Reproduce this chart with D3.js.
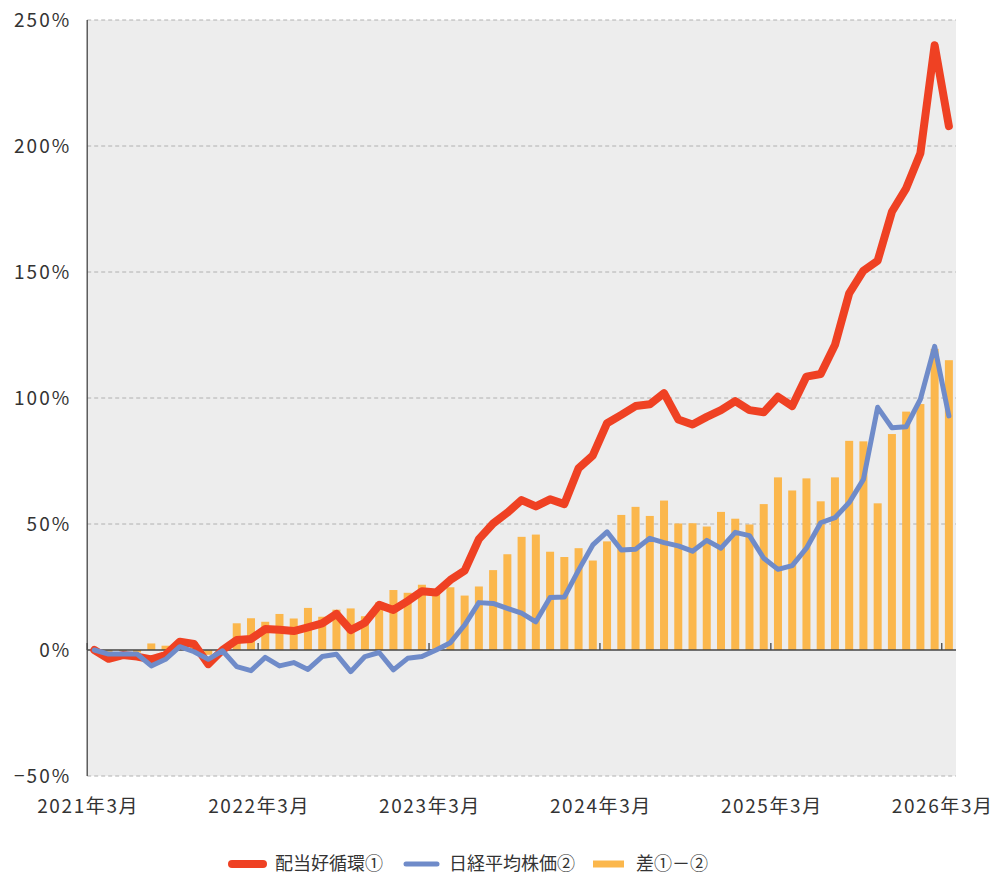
<!DOCTYPE html>
<html><head><meta charset="utf-8">
<script src="https://cdn.jsdelivr.net/npm/d3@7/dist/d3.min.js"></script>
<style>
body{margin:0;background:#fff;}
text{font-family:"Noto Sans CJK JP","Noto Sans",sans-serif;fill:#333;}
</style></head>
<body><svg id="c" width="993" height="875"></svg>
<script>
// categories: monthly 2021-03 .. 2026-03
const categories = [];
for (let y = 2021, m = 3; !(y === 2026 && m === 4); m++) {
  if (m > 12) { m = 1; y++; }
  if (y === 2026 && m === 4) break;
  categories.push(y + "-" + String(m).padStart(2, "0"));
}
const tickCategories = ["2021-03","2022-03","2023-03","2024-03","2025-03","2026-03"];
const tickLabels = ["2021年3月","2022年3月","2023年3月","2024年3月","2025年3月","2026年3月"];
const yTicks = [-50, 0, 50, 100, 150, 200, 250];
const seriesNames = ["配当好循環①", "日経平均株価②", "差①－②"];

const dividend = [0,-3.5,-2,-2.6,-3.7,-2,3.3,2.4,-5.6,0,4,4.4,8.3,8,7.5,9,10.6,14.3,7.9,10.8,
  17.9,15.9,19.4,23.3,22.8,27.8,31.5,44,50.2,54.5,59.5,57,59.8,57.9,72.1,77.2,90,93.3,96.8,97.5,
  101.9,91.5,89.5,92.5,95.2,98.8,95.2,94.3,100.5,96.8,108.5,109.5,121,141.5,150.5,154.5,173.9,183.2,197.1,240,207.9];
const nikkei = [0,-1.6,-1.6,-1.6,-6.3,-3.7,1.3,-0.7,-3.7,-0.3,-6.6,-8.2,-2.9,-6.3,-5,-7.7,-2.6,-1.7,-8.6,-2.6,
  -1,-7.9,-3.3,-2.6,0,2.9,9.9,18.8,18.5,16.5,14.6,11.2,20.8,21,31.7,41.7,46.9,39.7,40,44.3,
  42.6,41.3,39.2,43.5,40.4,46.7,45.4,36.4,32,33.5,40.4,50.5,52.5,58.5,67.7,96.3,88.2,88.6,99.5,120.5,92.9];
const diff = [0,-1.9,-0.4,-1,2.6,1.7,2,3.1,-1.9,0.3,10.6,12.6,11.2,14.3,12.5,16.7,13.2,16,16.5,13.4,
  18.9,23.8,22.7,25.9,22.8,24.9,21.6,25.2,31.7,38,44.9,45.8,39,36.9,40.4,35.5,43.1,53.6,56.8,53.2,
  59.3,50.2,50.3,49,54.8,52.1,49.8,57.9,68.5,63.3,68.1,59,68.5,83,82.8,58.2,85.7,94.6,97.6,119.5,115];

const colors = {red:"#ef4123", blue:"#6f8bc9", orange:"#fbb74c"};

const svg = d3.select("#c");
const L = 87.2, R = 956, T = 20, B = 776;

const x = d3.scaleBand().domain(categories).range([L, R]).paddingInner(0).paddingOuter(0);
const y = d3.scaleLinear().domain([-50, 250]).range([B, T]);
const cx = d => x(d) + x.bandwidth() / 2;

// background
svg.append("rect").attr("x", L).attr("y", T).attr("width", R - L).attr("height", B - T).attr("fill", "#ededed");

// gridlines
svg.append("g").selectAll("line").data(yTicks.filter(v => v !== 0)).join("line")
  .attr("x1", L).attr("x2", R).attr("y1", d => y(d)).attr("y2", d => y(d))
  .attr("stroke", "#b0b0b0").attr("stroke-width", 1).attr("stroke-dasharray", "4,3");

// y axis labels
const yAxis = d3.axisLeft(y).tickValues(yTicks).tickSize(0).tickPadding(16)
  .tickFormat(d => (d < 0 ? "−" + Math.abs(d) : d) + "%");
const ga = svg.append("g").attr("transform", `translate(${L},0)`).call(yAxis);
ga.select(".domain").remove();
ga.selectAll("text").style("font-size", "19px").style("letter-spacing", "2px").attr("fill", "#333");

// bars
const bw = 8;
svg.append("g").selectAll("rect").data(categories).join("rect")
  .attr("x", (d) => cx(d) - bw / 2)
  .attr("y", (d, i) => Math.min(y(diff[i]), y(0)))
  .attr("width", bw)
  .attr("height", (d, i) => Math.abs(y(diff[i]) - y(0)))
  .attr("fill", colors.orange);

// zero line and left axis
svg.append("line").attr("x1", L).attr("x2", R).attr("y1", y(0)).attr("y2", y(0)).attr("stroke", "#444").attr("stroke-width", 1.3);
svg.append("line").attr("x1", L).attr("x2", L).attr("y1", T).attr("y2", B).attr("stroke", "#444").attr("stroke-width", 1.3);

// x tick marks
svg.append("g").selectAll("line").data(tickCategories).join("line")
  .attr("x1", d => x(d)).attr("x2", d => x(d)).attr("y1", y(0)).attr("y2", y(0) - 7)
  .attr("stroke", "#444").attr("stroke-width", 1.3);

// x labels
svg.append("g").selectAll("text").data(tickCategories).join("text")
  .attr("x", d => x(d) + 1).attr("y", 813).attr("text-anchor", "middle")
  .style("font-size", "19px").style("letter-spacing", "1.6px")
  .text((d, i) => tickLabels[i]);

// lines
const line = vals => d3.line().x((d) => cx(d)).y((d, i) => y(vals[i]))(categories);
svg.append("path").attr("d", line(dividend)).attr("fill", "none").attr("stroke", colors.red)
  .attr("stroke-width", 8).attr("stroke-linejoin", "round").attr("stroke-linecap", "round");
svg.append("path").attr("d", line(nikkei)).attr("fill", "none").attr("stroke", colors.blue)
  .attr("stroke-width", 5).attr("stroke-linejoin", "round").attr("stroke-linecap", "round");

// legend
const legend = [
  {name: seriesNames[0], color: colors.red, w: 8, x: 232},
  {name: seriesNames[1], color: colors.blue, w: 5, x: 406},
  {name: seriesNames[2], color: colors.orange, w: 7, x: 593}
];
const lg = svg.append("g");
legend.forEach(l => {
  lg.append("line").attr("x1", l.x).attr("x2", l.x + 31).attr("y1", 864).attr("y2", 864)
    .attr("stroke", l.color).attr("stroke-width", l.w).attr("stroke-linecap", l.color === colors.orange ? "butt" : "round");
  lg.append("text").attr("x", l.x + 43).attr("y", 864).attr("dy", "0.35em")
    .style("font-size", "18px").text(l.name);
});
</script></body></html>
